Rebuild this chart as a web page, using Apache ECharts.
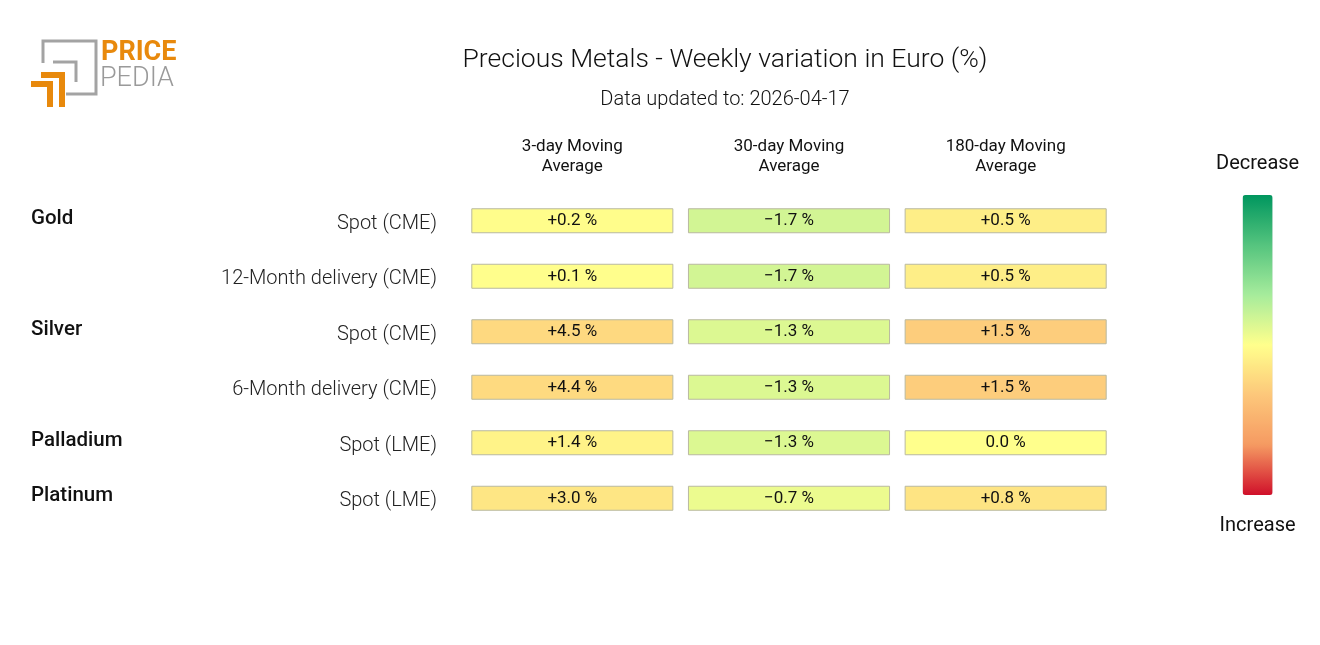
<!DOCTYPE html>
<html>
<head>
<meta charset="utf-8">
<script src="https://cdn.jsdelivr.net/npm/echarts@6/dist/echarts.min.js"></script>
<style>html,body{margin:0;padding:0;background:#fff}#c{width:1320px;height:645px}</style>
</head>
<body>
<div id="c"></div>
<script>
const columns = ['3-day Moving\nAverage', '30-day Moving\nAverage', '180-day Moving\nAverage'];
const groupLabels = ['Gold', '', 'Silver', '', 'Palladium', 'Platinum'];
const rowLabels = ['Spot (CME)', '12-Month delivery (CME)', 'Spot (CME)', '6-Month delivery (CME)', 'Spot (LME)', 'Spot (LME)'];
const ma3 = [0.2, 0.1, 4.5, 4.4, 1.4, 3.0];
const ma30 = [-1.7, -1.7, -1.3, -1.3, -1.3, -0.7];
const ma180 = [0.5, 0.5, 1.5, 1.5, 0.0, 0.8];
const colorRanges = [[-20, 20], [-10, 10], [-5, 5]];
const scaleColors = ['#00965e', '#55c47e', '#a6ec9c', '#ffff8c', '#fdc77a', '#f59a62', '#d0102a'];

const cols = [ma3, ma30, ma180];

function fmt(v) {
  const s = Math.abs(v).toFixed(1);
  if (v > 0) return '+' + s + ' %';
  if (v < 0) return '\u2212' + s + ' %';
  return s + ' %';
}

function renderItem(params, api) {
  const c = api.coord([api.value(0), api.value(1)]);
  const s = api.size([1, 1]);
  const w = s[0] * 0.928, h = 24;
  const v = api.value(2);
  return {
    type: 'group',
    children: [
      { type: 'rect', shape: { x: c[0] - w / 2, y: c[1] - h / 2, width: w, height: h },
        style: { fill: api.visual('color'), stroke: '#b9b9a0', lineWidth: 1 } },
      { type: 'text', style: { text: fmt(v), x: c[0], y: c[1], align: 'center', verticalAlign: 'middle',
        fontFamily: 'Roboto', fontSize: 17, fill: '#111' } }
    ]
  };
}

const series = cols.map((arr, ci) => ({
  type: 'custom',
  renderItem: renderItem,
  xAxisIndex: 0, yAxisIndex: 0,
  encode: { x: 0, y: 1 },
  data: arr.map((v, ri) => [ci, ri, v])
}));

const visualMaps = colorRanges.map((r, ci) => ({
  type: 'continuous',
  seriesIndex: ci,
  dimension: 2,
  min: r[0], max: r[1],
  show: ci === 0,
  calculable: false,
  hoverLink: false,
  inverse: true,
  inRange: { color: scaleColors },
  left: 1201, top: 139,
  itemWidth: 30, itemHeight: 300,
  text: ['Increase', 'Decrease'],
  textGap: 21,
  textStyle: { fontFamily: 'Roboto', fontSize: 20, color: '#111' }
}));

const chart = echarts.init(document.getElementById('c'));
chart.setOption({
  animation: false,
  backgroundColor: '#fff',
  title: [
    { text: 'Precious Metals - Weekly variation in Euro (%)', left: 720, top: 42, textAlign: 'center',
      textStyle: { fontFamily: 'Roboto', fontWeight: 300, fontSize: 26.5, color: '#111' } },
    { text: 'Data updated to: 2026-04-17', left: 720, top: 85, textAlign: 'center',
      textStyle: { fontFamily: 'Roboto', fontWeight: 300, fontSize: 20, color: '#111' } }
  ],
  grid: { left: 464, right: 206, top: 193, bottom: 119 },
  xAxis: {
    type: 'category', data: columns, position: 'top',
    axisLine: { show: false }, axisTick: { show: false }, splitLine: { show: false },
    axisLabel: { fontFamily: 'Roboto', fontSize: 17, lineHeight: 20, color: '#111', margin: 16, interval: 0 }
  },
  yAxis: [
    { type: 'category', data: rowLabels, inverse: true,
      axisLine: { show: false }, axisTick: { show: false }, splitLine: { show: false },
      axisLabel: { margin: 27, interval: 0,
        formatter: v => '{a|' + v + '}',
        rich: { a: { fontFamily: 'Roboto', fontWeight: 300, fontSize: 20, color: '#222', padding: [6, 0, 0, 0] } } } },
    { type: 'category', data: groupLabels, inverse: true, position: 'left',
      axisLine: { show: false }, axisTick: { show: false }, splitLine: { show: false },
      axisLabel: { margin: 433, align: 'left', interval: 0,
        formatter: v => v ? '{a|' + v + '}' : '',
        rich: { a: { fontFamily: 'Roboto', fontWeight: 500, fontSize: 20.5, color: '#111', padding: [0, 0, 4, 0] } } } }
  ],
  visualMap: visualMaps,
  series: series,
  graphic: [
    { type: 'polyline', shape: { points: [[43, 63], [43, 41], [96, 41], [96, 94], [66, 94]] },
      style: { stroke: '#a3a3a3', lineWidth: 3, fill: null } },
    { type: 'polyline', shape: { points: [[53, 62], [76, 62], [76, 82]] },
      style: { stroke: '#a3a3a3', lineWidth: 3, fill: null } },
    { type: 'polyline', shape: { points: [[41, 75], [62, 75], [62, 107]] },
      style: { stroke: '#e8890c', lineWidth: 6, fill: null } },
    { type: 'polyline', shape: { points: [[31, 84], [50, 84], [50, 107]] },
      style: { stroke: '#e8890c', lineWidth: 6, fill: null } },
    { type: 'text', left: 101, top: 40,
      style: { text: 'PRICE', fontFamily: 'Roboto', fontWeight: 700, fontSize: 27, fill: '#e8890c' } },
    { type: 'text', left: 100, top: 66,
      style: { text: 'PEDIA', fontFamily: 'Roboto', fontWeight: 300, fontSize: 27, fill: '#9a9a9a' } }
  ]
});
</script>
</body>
</html>
